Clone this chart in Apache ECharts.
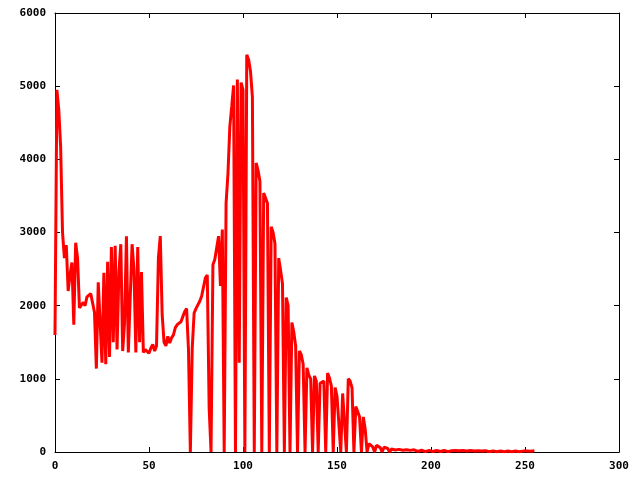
<!DOCTYPE html>
<html>
<head>
<meta charset="utf-8">
<script src="https://cdn.jsdelivr.net/npm/echarts@6/dist/echarts.min.js"></script>
<style>
html,body{margin:0;padding:0;background:#fff;}
#chart{width:640px;height:480px;}
</style>
</head>
<body>
<div id="chart"></div>
<script>
// Histogram values for levels 0..255
var levels0to49 = [1600,4950,4680,4170,3000,2650,2830,2200,2420,2590,
  1740,2860,2650,1970,1990,2045,2000,2120,2145,2165,
  2185,1910,1140,2320,2345,1220,2450,1200,2600,1300,
  2800,1500,2820,1400,2460,2840,1380,1770,2950,1360,
  1380,2840,2490,1360,2800,1500,2460,1360,1400,1380];
var levels50to99 = [1350,1420,1470,1380,1450,2650,2950,1880,1500,1450,
  1580,1490,1560,1600,1700,1740,1750,1780,1850,1920,
  1960,1400,0,1420,1900,1960,2010,2060,2130,2150,
  2380,2420,600,0,2560,2630,2650,2950,2270,3040,
  0,3400,3800,4450,4720,5010,0,5090,1220,5050];
var levels100to149 = [4950,0,5430,5360,5200,4850,0,3950,3850,3700,
  0,3540,3470,3400,0,3080,3000,2850,0,2650,
  2480,2300,0,2110,2000,0,1770,1640,1450,0,
  1380,1330,1200,0,1150,1050,1000,0,1040,970,
  0,940,920,970,0,1080,1010,900,0,880];
var levels150to199 = [760,740,0,800,810,0,1000,970,875,0,
  620,610,480,0,480,310,0,115,90,70,
  0,90,80,60,0,66,60,48,0,40,
  34,28,10,36,30,24,10,32,28,22,
  8,30,26,8,28,24,20,6,26,22];
var levels200to255 = [18,6,24,20,18,6,22,20,16,5,
  22,18,5,20,18,16,5,20,18,15,
  5,20,16,14,4,18,16,14,4,18,
  15,4,16,15,13,4,16,14,12,4,
  15,13,12,4,14,13,12,4,14,12,
  4,14,12,10,4,18];

var counts = [].concat(levels0to49, levels50to99, levels100to149, levels150to199, levels200to255);
var xTicks = [0, 50, 100, 150, 200, 250, 300];
var yTicks = [0, 1000, 2000, 3000, 4000, 5000, 6000];

var seriesData = counts.map(function (v, i) { return [i, v]; });

var labelFont = {
  fontFamily: 'DejaVu Sans Mono',
  fontWeight: 'bold',
  fontSize: 11,
  color: '#000',
  formatter: function (v) { return String(v); }
};

var chart = echarts.init(document.getElementById('chart'), null, {renderer: 'canvas'});
chart.setOption({
  animation: false,
  backgroundColor: '#ffffff',
  grid: {left: 55, right: 21, top: 13, bottom: 28, containLabel: false, outerBoundsMode: 'none'},
  xAxis: [{
    type: 'value', position: 'bottom',
    min: xTicks[0], max: xTicks[xTicks.length - 1], interval: 50,
    axisLine: {show: true, onZero: false, lineStyle: {color: '#000', width: 1}},
    axisTick: {show: true, inside: true, length: 5, lineStyle: {color: '#000'}},
    axisLabel: Object.assign({margin: 9}, labelFont),
    splitLine: {show: false}
  }, {
    type: 'value', position: 'top',
    min: xTicks[0], max: xTicks[xTicks.length - 1], interval: 50,
    axisLine: {show: true, onZero: false, lineStyle: {color: '#000', width: 1}},
    axisTick: {show: true, inside: true, length: 5, lineStyle: {color: '#000'}},
    axisLabel: {show: false},
    splitLine: {show: false}
  }],
  yAxis: [{
    type: 'value', position: 'left',
    min: yTicks[0], max: yTicks[yTicks.length - 1], interval: 1000,
    axisLine: {show: true, onZero: false, lineStyle: {color: '#000', width: 1}},
    axisTick: {show: true, inside: true, length: 5, lineStyle: {color: '#000'}},
    axisLabel: Object.assign({margin: 9}, labelFont),
    splitLine: {show: false}
  }, {
    type: 'value', position: 'right',
    min: yTicks[0], max: yTicks[yTicks.length - 1], interval: 1000,
    axisLine: {show: true, onZero: false, lineStyle: {color: '#000', width: 1}},
    axisTick: {show: true, inside: true, length: 5, lineStyle: {color: '#000'}},
    axisLabel: {show: false},
    splitLine: {show: false}
  }],
  series: [{
    type: 'line',
    xAxisIndex: 0, yAxisIndex: 0,
    data: seriesData,
    showSymbol: false,
    symbol: 'none',
    smooth: false,
    lineStyle: {color: '#ff0000', width: 3, join: 'bevel', cap: 'butt'},
    z: 5
  }]
});
</script>
</body>
</html>
